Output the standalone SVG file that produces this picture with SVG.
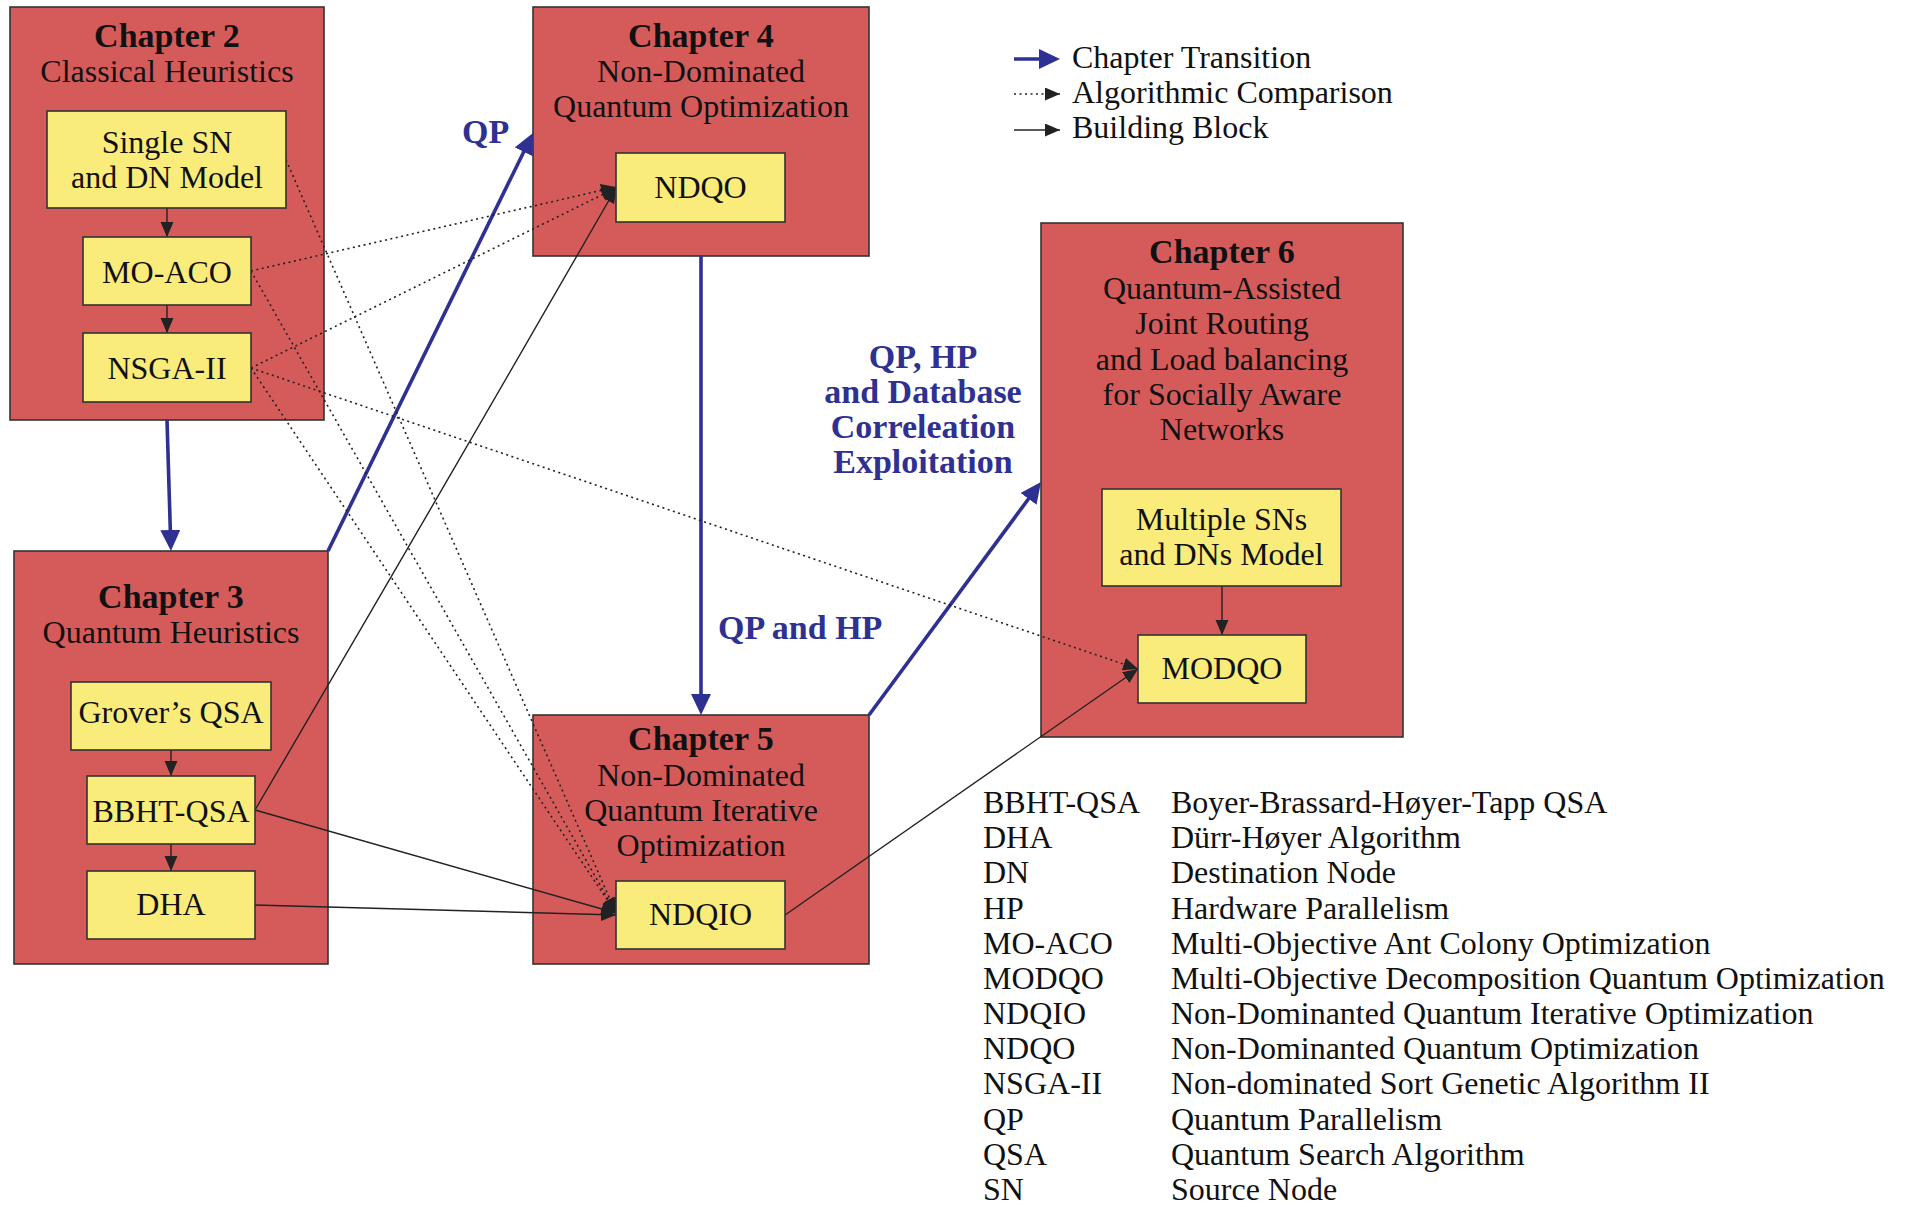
<svg xmlns="http://www.w3.org/2000/svg" width="1917" height="1207" viewBox="0 0 1917 1207">
<style>
  text { font-family: "Liberation Serif", "Times New Roman", serif; font-size: 32px; fill: #111; }
  .c { text-anchor: middle; }
  .title { font-weight: bold; font-size: 34px; }
  .blue { fill: #2E3192; font-weight: bold; font-size: 34px; }
  .chap { fill: #D55B5B; stroke: #333; stroke-width: 1.6; }
  .node { fill: #FAEC7A; stroke: #333; stroke-width: 1.6; }
  .trans { stroke: #2E3192; stroke-width: 3.6; fill: none; marker-end: url(#ab); }
  .build { stroke: #222; stroke-width: 1.4; fill: none; marker-end: url(#ak); }
  .cmp { stroke: #222; stroke-width: 1.6; fill: none; stroke-dasharray: 2 3.5; marker-end: url(#ak); }
</style>
<defs>
  <marker id="ab" markerUnits="userSpaceOnUse" markerWidth="22" markerHeight="21" refX="16" refY="10" orient="auto">
    <path d="M0,0 L21,10 L0,20 z" fill="#2E3192"/>
  </marker>
  <marker id="ak" markerUnits="userSpaceOnUse" markerWidth="16" markerHeight="14" refX="15" refY="6.5" orient="auto">
    <path d="M0,0 L15,6.5 L0,13 z" fill="#222"/>
  </marker>
</defs>
<rect width="1917" height="1207" fill="#fff"/>

<!-- chapter containers -->
<g id="chapter2">
  <rect class="chap" x="10" y="7" width="314" height="413"/>
  <text class="c title" x="167" y="47">Chapter 2</text>
  <text class="c" x="167" y="82">Classical Heuristics</text>
</g>
<g id="chapter3">
  <rect class="chap" x="14" y="551" width="314" height="413"/>
  <text class="c title" x="171" y="608">Chapter 3</text>
  <text class="c" x="171" y="643">Quantum Heuristics</text>
</g>
<g id="chapter4">
  <rect class="chap" x="533" y="7" width="336" height="249"/>
  <text class="c title" x="701" y="47">Chapter 4</text>
  <text class="c" x="701" y="82">Non-Dominated</text>
  <text class="c" x="701" y="117">Quantum Optimization</text>
</g>
<g id="chapter5">
  <rect class="chap" x="533" y="715" width="336" height="249"/>
  <text class="c title" x="701" y="750">Chapter 5</text>
  <text class="c" x="701" y="786">Non-Dominated</text>
  <text class="c" x="701" y="821">Quantum Iterative</text>
  <text class="c" x="701" y="856">Optimization</text>
</g>
<g id="chapter6">
  <rect class="chap" x="1041" y="223" width="362" height="514"/>
  <text class="c title" x="1222" y="263">Chapter 6</text>
  <text class="c" x="1222" y="298.5">Quantum-Assisted</text>
  <text class="c" x="1222" y="334">Joint Routing</text>
  <text class="c" x="1222" y="369.5">and Load balancing</text>
  <text class="c" x="1222" y="405">for Socially Aware</text>
  <text class="c" x="1222" y="440">Networks</text>
</g>

<!-- connectors -->
<g id="connectors">
  <!-- chapter transitions -->
  <line class="trans" x1="167" y1="420" x2="170.8" y2="546"/>
  <line class="trans" x1="328" y1="551" x2="530.8" y2="137.5"/>
  <line class="trans" x1="701" y1="256" x2="701" y2="710"/>
  <line class="trans" x1="869" y1="715" x2="1038" y2="486"/>
  <!-- building blocks -->
  <line class="build" x1="167" y1="208" x2="167" y2="237"/>
  <line class="build" x1="167" y1="305" x2="167" y2="333"/>
  <line class="build" x1="171" y1="750" x2="171" y2="776"/>
  <line class="build" x1="171" y1="844" x2="171" y2="871"/>
  <line class="build" x1="1222" y1="586" x2="1222" y2="635"/>
  <path class="build" d="M255,810 Q425,520 616,188"/>
  <line class="build" x1="255" y1="810" x2="616" y2="913"/>
  <line class="build" x1="255" y1="905" x2="616" y2="915"/>
  <line class="build" x1="785" y1="915" x2="1138" y2="669"/>
  <!-- algorithmic comparisons -->
  <line class="cmp" x1="251" y1="271" x2="616" y2="187"/>
  <line class="cmp" x1="251" y1="368" x2="616" y2="188"/>
  <line class="cmp" x1="286" y1="160" x2="616" y2="913"/>
  <line class="cmp" x1="251" y1="271" x2="616" y2="913"/>
  <line class="cmp" x1="251" y1="368" x2="616" y2="913"/>
  <line class="cmp" x1="251" y1="368" x2="1138" y2="669"/>
  <!-- labels -->
  <text class="blue" x="462" y="143">QP</text>
  <text class="blue" x="718" y="639">QP and HP</text>
  <text class="blue c" x="923" y="368">QP, HP</text>
  <text class="blue c" x="923" y="403">and Database</text>
  <text class="blue c" x="923" y="438">Correleation</text>
  <text class="blue c" x="923" y="473">Exploitation</text>
</g>

<!-- algorithm nodes -->
<g id="single-sn">
  <rect class="node" x="47" y="111" width="239" height="97"/>
  <text class="c" x="167" y="153">Single SN</text>
  <text class="c" x="167" y="188">and DN Model</text>
</g>
<g id="mo-aco">
  <rect class="node" x="83" y="237" width="168" height="68"/>
  <text class="c" x="167" y="283">MO-ACO</text>
</g>
<g id="nsga-ii">
  <rect class="node" x="83" y="333" width="168" height="69"/>
  <text class="c" x="167" y="379">NSGA-II</text>
</g>
<g id="grovers-qsa">
  <rect class="node" x="71" y="682" width="200" height="68"/>
  <text class="c" x="171" y="723">Grover’s QSA</text>
</g>
<g id="bbht-qsa">
  <rect class="node" x="87" y="776" width="168" height="68"/>
  <text class="c" x="171" y="822">BBHT-QSA</text>
</g>
<g id="dha">
  <rect class="node" x="87" y="871" width="168" height="68"/>
  <text class="c" x="171" y="915">DHA</text>
</g>
<g id="ndqo">
  <rect class="node" x="616" y="153" width="169" height="69"/>
  <text class="c" x="700.5" y="198">NDQO</text>
</g>
<g id="ndqio">
  <rect class="node" x="616" y="881" width="169" height="68"/>
  <text class="c" x="700.5" y="925">NDQIO</text>
</g>
<g id="multiple-sns">
  <rect class="node" x="1102" y="489" width="239" height="97"/>
  <text class="c" x="1221.5" y="530">Multiple SNs</text>
  <text class="c" x="1221.5" y="565">and DNs Model</text>
</g>
<g id="modqo">
  <rect class="node" x="1138" y="635" width="168" height="68"/>
  <text class="c" x="1222" y="679">MODQO</text>
</g>

<!-- legend -->
<g id="legend">
  <line class="trans" x1="1014" y1="59" x2="1055" y2="59"/>
  <line class="cmp" x1="1014" y1="94" x2="1060" y2="94"/>
  <line class="build" x1="1014" y1="130" x2="1060" y2="130"/>
  <text x="1072" y="68">Chapter Transition</text>
  <text x="1072" y="103">Algorithmic Comparison</text>
  <text x="1072" y="138">Building Block</text>
</g>

<!-- abbreviations -->
<g id="abbreviations">
  <text x="983" y="813">BBHT-QSA</text><text x="1171" y="813">Boyer-Brassard-Høyer-Tapp QSA</text>
  <text x="983" y="848.2">DHA</text><text x="1171" y="848.2">Dürr-Høyer Algorithm</text>
  <text x="983" y="883.4">DN</text><text x="1171" y="883.4">Destination Node</text>
  <text x="983" y="918.5">HP</text><text x="1171" y="918.5">Hardware Parallelism</text>
  <text x="983" y="953.7">MO-ACO</text><text x="1171" y="953.7">Multi-Objective Ant Colony Optimization</text>
  <text x="983" y="988.9">MODQO</text><text x="1171" y="988.9">Multi-Objective Decomposition Quantum Optimization</text>
  <text x="983" y="1024.1">NDQIO</text><text x="1171" y="1024.1">Non-Dominanted Quantum Iterative Optimization</text>
  <text x="983" y="1059.3">NDQO</text><text x="1171" y="1059.3">Non-Dominanted Quantum Optimization</text>
  <text x="983" y="1094.4">NSGA-II</text><text x="1171" y="1094.4">Non-dominated Sort Genetic Algorithm II</text>
  <text x="983" y="1129.6">QP</text><text x="1171" y="1129.6">Quantum Parallelism</text>
  <text x="983" y="1164.8">QSA</text><text x="1171" y="1164.8">Quantum Search Algorithm</text>
  <text x="983" y="1200">SN</text><text x="1171" y="1200">Source Node</text>
</g>
</svg>
